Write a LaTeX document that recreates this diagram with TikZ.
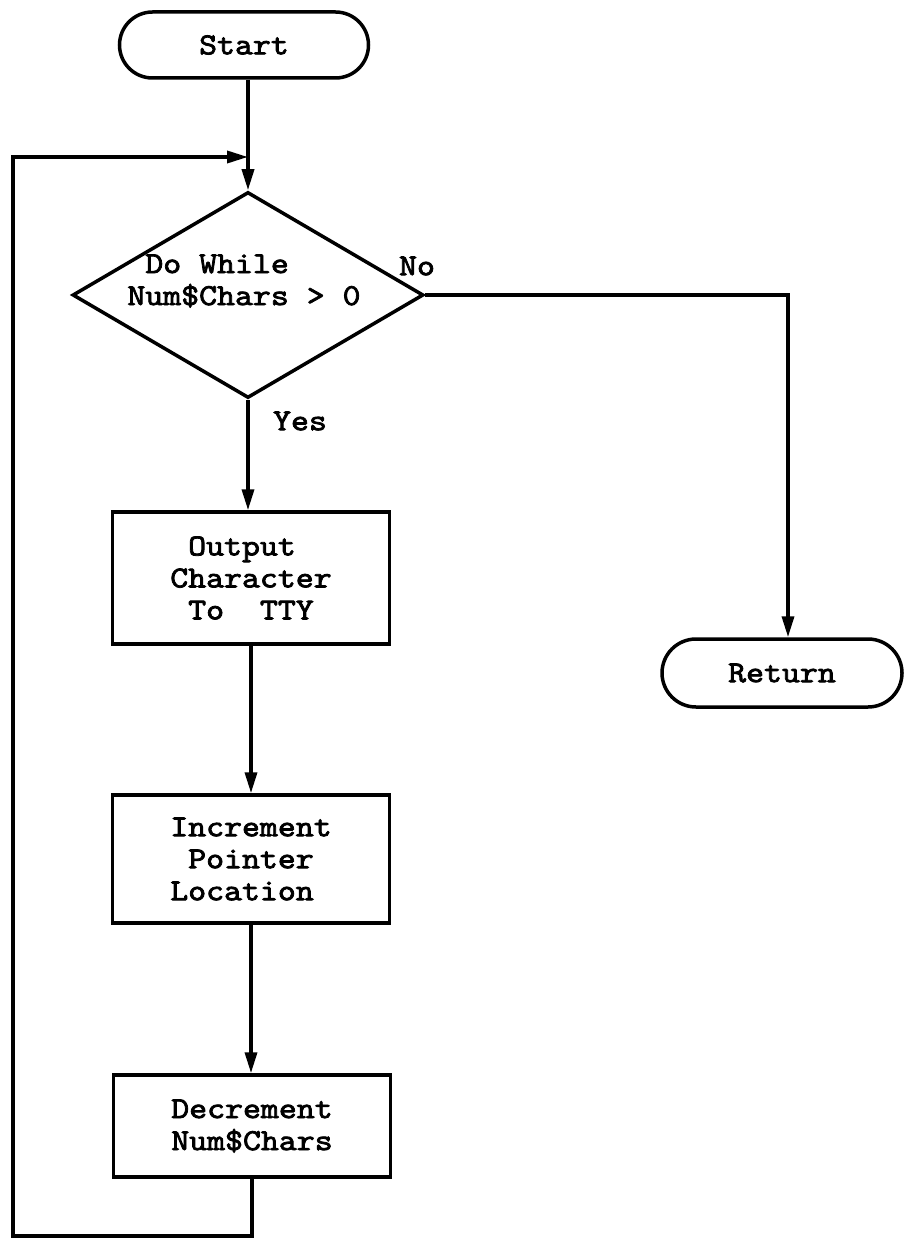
\documentclass[tikz,border=0pt]{standalone}
\usepackage{fontspec}
\newfontfamily\tw{lmmono10-regular}[Extension=.otf,FakeStretch=1.12,FakeBold=2.5]
\usetikzlibrary{shapes.geometric,shapes.misc,arrows.meta}
\begin{document}
\begin{tikzpicture}[x=1pt,y=-1pt,
  every node/.style={font=\tw\fontsize{30.5}{32}\selectfont},
  conn/.style={line width=3.5pt},
  arr/.style={conn,-{Triangle[length=21pt,width=12pt]}},
  term/.style={draw,line width=3.5pt,rounded rectangle,inner sep=0pt},
  procbox/.style={draw,line width=3.5pt,rectangle,inner sep=0pt,minimum width=277pt,align=left},
  decision/.style={draw,line width=3.5pt,diamond,inner sep=0pt,minimum width=351pt,minimum height=206pt},
  lbl/.style={inner sep=0pt}
]
\useasboundingbox (0,0) rectangle (904,1238);

\node[term,minimum width=249pt,minimum height=66pt] (st) at (244,45) {Start};
\node[decision] (d) at (248,295) {};
\node[lbl,align=left] (dtxt) at (244,281) {\ Do While\\Num\$Chars > 0};
\node[lbl] (no) at (417,266) {No};
\node[lbl] (yes) at (300,421) {Yes};

\node[procbox,minimum height=132pt] (out) at (251,578) {\ Output\\Character\\\ To\ \ TTY};
\node[procbox,minimum height=128pt] (inc) at (251,859) {Increment\\\ Pointer\\Location};
\node[procbox,minimum height=102pt] (dec) at (252,1126) {Decrement\\Num\$Chars};

\node[term,minimum width=240pt,minimum height=68pt] (ret) at (782,673) {Return};

\coordinate (join) at (248,157);
\coordinate (tl) at (13,157);
\coordinate (bl) at (13,1236);

\draw[arr] (d.north |- st.south) -- (d.north);
\draw[arr] (d.south) -- (d.south |- out.north);
\draw[arr] (out.south) -- (out.south |- inc.north);
\draw[arr] (inc.south) -- (inc.south |- dec.north);
\draw[arr] (d.east) -| ([xshift=6pt]ret.north);
\draw[arr] (dec.south) -- (dec.south |- bl) -- (bl) -- (tl) -- (join);
\end{tikzpicture}
\end{document}
